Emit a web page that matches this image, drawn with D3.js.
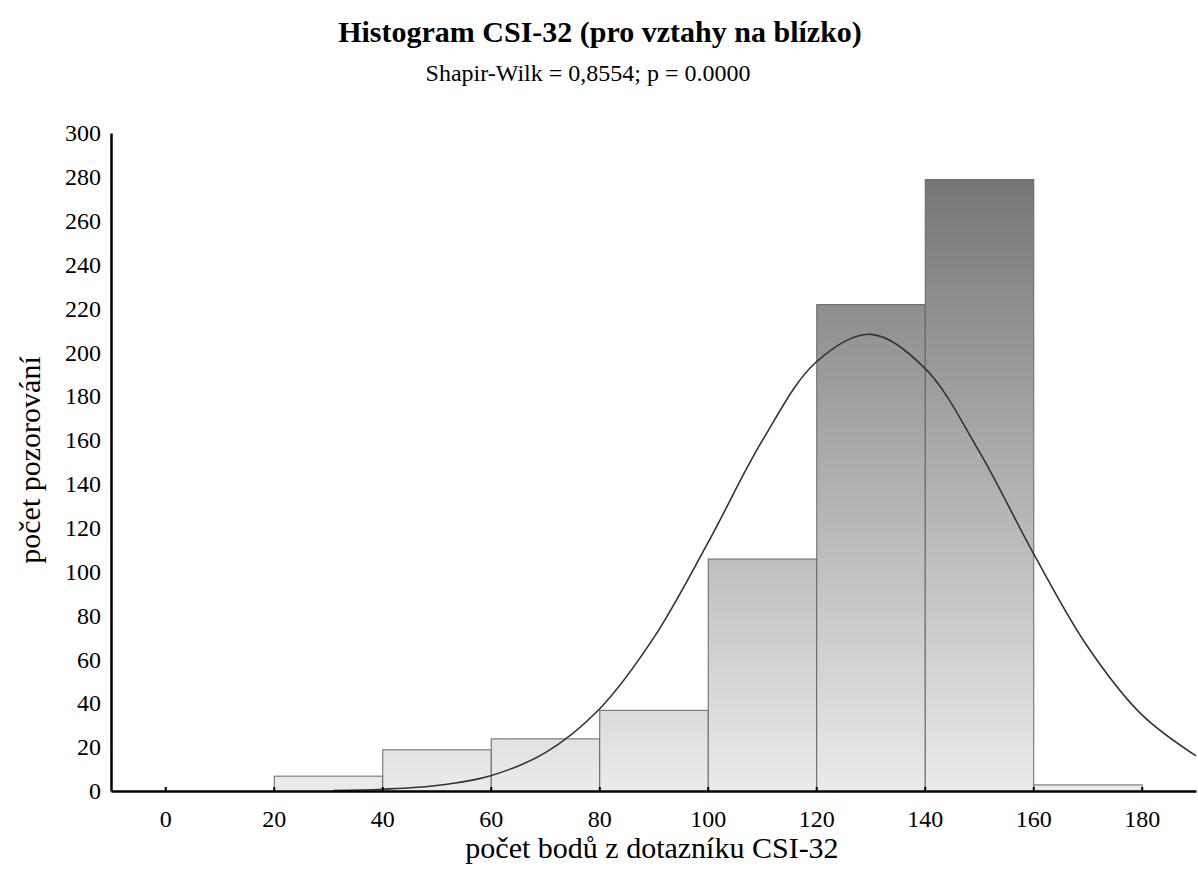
<!DOCTYPE html>
<html><head><meta charset="utf-8">
<script src="https://cdn.jsdelivr.net/npm/d3@7"></script>
<style>body{margin:0;background:#fff}svg{display:block}</style>
</head><body>
<svg id="c" width="1198" height="888"></svg>
<script>
// Histogram bins (lower edges, width 20) and counts
const binStarts = [0, 20, 40, 60, 80, 100, 120, 140, 160];
const binCounts = [0, 7, 19, 24, 37, 106, 222, 279, 3];
// Fitted normal curve
const curveX = [31, 40, 50, 60, 70, 80, 90, 100, 110, 120, 130, 140, 150, 160, 170, 180, 190];
const curveY = [0.2, 0.8, 2.5, 7, 17.4, 37.3, 69.7, 113, 159.5, 195.6, 208.2, 192.8, 155, 108.5, 65.9, 34.8, 16];
const xTicks = [0, 20, 40, 60, 80, 100, 120, 140, 160, 180];
const yTicks = d3.range(0, 301, 20);
const titleText = "Histogram CSI-32 (pro vztahy na blízko)";
const subtitleText = "Shapir-Wilk = 0,8554; p = 0.0000";
const xLabel = "počet bodů z dotazníku CSI-32";
const yLabel = "počet pozorování";

const FONT = "Liberation Serif";
const svg = d3.select("#c");
const x = d3.scaleLinear().domain([-10, 190]).range([111, 1196]);
const y = d3.scaleLinear().domain([0, 300]).range([791, 133]);

const defs = svg.append("defs");
const g = defs.append("linearGradient").attr("id", "bg")
  .attr("gradientUnits", "userSpaceOnUse")
  .attr("x1", 0).attr("x2", 0).attr("y1", y(279)).attr("y2", y(0));
g.append("stop").attr("offset", 0).attr("stop-color", "#767676");
g.append("stop").attr("offset", 1).attr("stop-color", "#ebebeb");

// bars
svg.append("g").selectAll("rect").data(binStarts.map((s, i) => ({s, c: binCounts[i]})).filter(d => d.c > 0))
  .join("rect")
  .attr("x", d => x(d.s) + 0.5)
  .attr("width", d => x(d.s + 20) - x(d.s))
  .attr("y", d => y(d.c) + 0.5)
  .attr("height", d => y(0) - y(d.c))
  .attr("fill", "url(#bg)")
  .attr("stroke", "#666")
  .attr("stroke-width", 1);

// curve
const pts = curveX.map((v, i) => [v, curveY[i]]);
svg.append("path").datum(pts)
  .attr("fill", "none").attr("stroke", "#333").attr("stroke-width", 1.6)
  .attr("d", d3.line().x(d => x(d[0])).y(d => y(d[1])).curve(d3.curveCatmullRom.alpha(0.5)));

// x axis
const xa = svg.append("g").attr("transform", `translate(0,${y(0)})`)
  .call(d3.axisBottom(x).tickValues(xTicks).tickSizeInner(-4).tickSizeOuter(0).tickPadding(19));
xa.attr("font-family", FONT);
xa.select(".domain").attr("stroke", "#000").attr("stroke-width", 2.5);
xa.selectAll(".tick line").attr("stroke", "#000").attr("stroke-width", 2);
xa.selectAll(".tick text").attr("font-size", 24).attr("font-family", FONT).attr("fill", "#000");

// y axis
const ya = svg.append("g").attr("transform", `translate(${x(-10)},0)`)
  .call(d3.axisLeft(y).tickValues(yTicks).tickSize(0).tickPadding(10));
ya.attr("font-family", FONT);
ya.select(".domain").attr("stroke", "#000").attr("stroke-width", 2.5);
ya.selectAll(".tick text").attr("font-size", 24).attr("font-family", FONT).attr("fill", "#000");

// titles
svg.append("text").attr("x", 600).attr("y", 42).attr("text-anchor", "middle").attr("font-family", FONT)
  .attr("font-size", 30).attr("font-weight", "bold").text(titleText);
svg.append("text").attr("x", 588).attr("y", 81).attr("text-anchor", "middle").attr("font-family", FONT)
  .attr("font-size", 24).text(subtitleText);
svg.append("text").attr("x", 652).attr("y", 858).attr("text-anchor", "middle").attr("font-family", FONT)
  .attr("font-size", 30).text(xLabel);
svg.append("text").attr("transform", "translate(40,460) rotate(-90)").attr("text-anchor", "middle").attr("font-family", FONT)
  .attr("font-size", 30).text(yLabel);
</script>
</body></html>
